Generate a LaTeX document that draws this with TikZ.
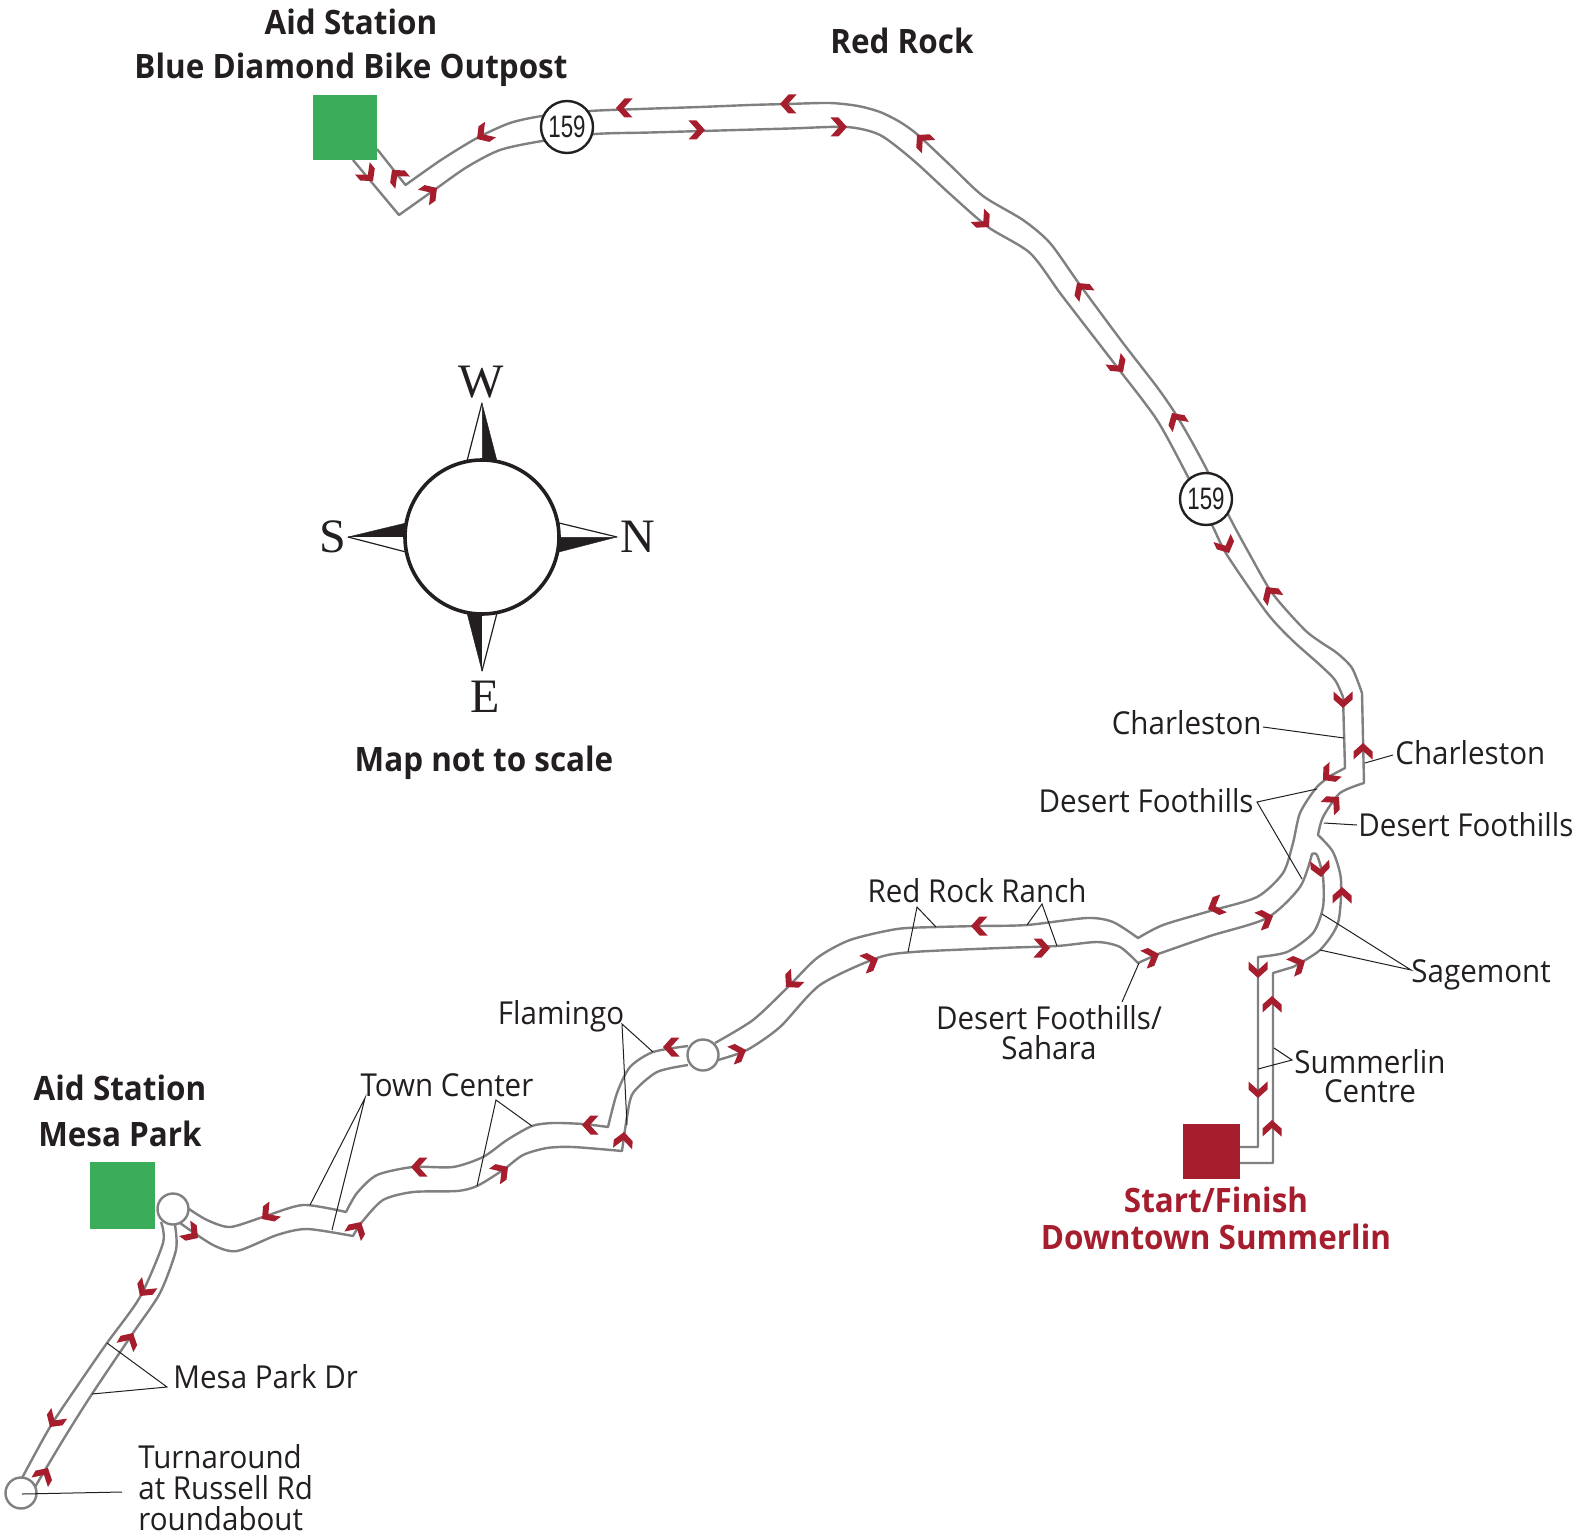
\documentclass[tikz,border=0pt]{standalone}
\usepackage{fontspec}
\setmainfont[FakeStretch=0.935]{Open Sans}
\newfontfamily\serifletters{Liberation Serif}
\newfontfamily\shieldfont[FakeStretch=0.72]{Liberation Sans}
\definecolor{roadgray}{HTML}{808080}
\definecolor{ink}{HTML}{231F20}
\definecolor{aidgreen}{HTML}{3BAD5A}
\definecolor{startred}{HTML}{A61E2D}
\tikzset{
  road/.style={draw=roadgray,line width=1.2pt,line join=round,fill=none},
  leader/.style={draw=ink,line width=0.5pt,line join=miter},
  chevron/.style={fill=startred,draw=none},
  lbl/.style={font=\fontsize{15.8}{18}\selectfont,text=ink,inner sep=0pt,anchor=base},
  lblw/.style={lbl,anchor=base west},
  lble/.style={lbl,anchor=base east},
  boldlbl/.style={font=\fontsize{16.8}{19}\bfseries\selectfont,text=ink,inner sep=0pt,anchor=base},
  redlbl/.style={boldlbl,text=startred},
  roundabout/.style={circle,draw=roadgray,fill=white,line width=1.2pt,minimum size=15.5pt,inner sep=0pt},
  shield/.style={circle,draw=ink,fill=white,line width=1.2pt,minimum size=26pt,inner sep=0pt,font=\shieldfont\fontsize{15.5}{18}\selectfont,text=ink},
  compassletter/.style={font=\serifletters\fontsize{24}{28}\selectfont,text=ink,inner sep=0pt,anchor=base},
  spike/.style={fill=ink,draw=ink,line width=0.2pt},
  spikeopen/.style={fill=white,draw=ink,line width=0.6pt},
  sm/.style={smooth,tension=0.45}
}
\newcommand{\chev}[3]{\fill[chevron,shift={(#1,#2)},rotate=#3] (0,0)--(-8.5,9.5)--(-16.5,9.5)--(-8,0)--(-16.5,-9.5)--(-8.5,-9.5)--cycle;}
\begin{document}
\begin{tikzpicture}[x=0.5pt,y=-0.5pt]
\useasboundingbox (0,0) rectangle (1585,1536);
% roads
\draw[road] (377,149) -- (405.5,185) -- plot[sm] coordinates {(405.5,185) (441,160) (477,138) (510,123) (542,116) (590,111) (640,109) (700,107) (750,105) (787,104) (830,103) (858,106) (880,112) (900,122) (918,135) (950,165) (983,196) (1023,220) (1050,243) (1080,285) (1123,343) (1157,387) (1175,413) (1192,442) (1208,472) (1230,518) (1250,555) (1270,590) (1288,612) (1307,632) (1322,643) (1337,653) (1352,668) (1362,693)} -- (1364,783) -- plot[sm] coordinates {(1364,783) (1340,793) (1323,817) (1318,835)} -- plot[sm] coordinates {(1318,835) (1333,852) (1341,880) (1338,923) (1320,950) (1293,967)} -- (1273,973) -- (1273,1163) -- (1240,1163);
\draw[road] (353,160) -- (399,215) -- plot[sm] coordinates {(399,215) (437,188) (467,167) (500,150) (542,141) (595,134) (650,132.5) (720,130.5) (790,128.5) (847,127) (880,135) (913,160) (950,194) (988,227) (1030,253) (1060,293) (1090,332) (1117,367) (1157,420) (1188,477) (1213,527) (1227,555) (1267,613) (1292,640) (1320,665) (1335,680) (1343,697)} -- (1345,768) -- (1330,776) -- plot[sm] coordinates {(1330,776) (1316,788) (1300,813) (1293,843) (1283,873) (1257,897) (1210,911) (1163,925) (1138,938)} -- plot[sm] coordinates {(1138,938) (1113,922) (1087,918) (1027,925) (980,926) (937,927) (897,929) (850,940) (817,958) (787,988) (753,1020) (715,1043)};
\draw[road] (1240,1147) -- (1258,1147) -- (1258,957) -- plot[sm] coordinates {(1258,957) (1287,952) (1313,933) (1323,907) (1323,877) (1317,855) (1312,854)} -- plot[sm] coordinates {(1312,854) (1300,887) (1267,918) (1210,936) (1158,954)} -- (1138,963) -- plot[sm] coordinates {(1138,963) (1120,947) (1097,942) (1057,946) (1000,948) (913,952) (877,958) (820,985) (780,1027) (747,1050) (718,1060)};
\draw[road] plot[sm] coordinates {(688,1046) (653,1052) (630,1067) (617,1093) (608,1127)} -- plot[sm] coordinates {(608,1127) (583,1124) (553,1123) (532,1126) (507,1140) (483,1157) (453,1167) (413,1167) (377,1175) (357,1193) (346,1212)} -- plot[sm] coordinates {(346,1212) (303,1205) (263,1217) (230,1227) (207,1220) (189,1209)};
\draw[road] plot[sm] coordinates {(688,1065) (657,1072) (633,1093) (627,1117) (622,1151)} -- plot[sm] coordinates {(622,1151) (573,1147) (547,1148) (523,1155) (503,1170) (477,1186) (457,1191) (413,1192) (383,1200) (362,1222) (353,1236)} -- plot[sm] coordinates {(353,1236) (307,1229) (277,1235) (237,1251) (213,1245) (180,1223)};
\draw[road] plot[sm] coordinates {(161,1222) (163,1243) (140,1297) (107,1343) (78,1385) (50,1427) (22,1478)};
\draw[road] plot[sm] coordinates {(175,1225) (176,1250) (160,1293) (133,1333) (92,1394) (63,1440) (35,1487)};
% circles and boxes
\node[shield] (shieldA) at (567,127) {\raisebox{-0.5pt}{159}};
\node[shield] (shieldB) at (1206,499) {\raisebox{-0.5pt}{159}};
\node[roundabout] (rbFlamingo) at (703,1055) {};
\node[roundabout] (rbMesa) at (173,1209) {};
\node[roundabout] (rbRussell) at (21,1493) {};
\fill[aidgreen] (313,95) rectangle (377,160);
\fill[aidgreen] (90,1162) rectangle (155,1229);
\fill[startred] (1183,1124) rectangle (1240,1179);
% leaders
\draw[leader] (1263,727) -- (1344,738);
\draw[leader] (1393,755) -- (1365,763);
\draw[leader] (1317,789) -- (1257,802) -- (1302,879);
\draw[leader] (1357,825) -- (1324,823);
\draw[leader] (1322,914) -- (1411,970) -- (1320,950);
\draw[leader] (1274,1048) -- (1292,1060) -- (1258,1069);
\draw[leader] (1122,1002) -- (1139,963);
\draw[leader] (936,927) -- (917,907) -- (908,952);
\draw[leader] (1027,925) -- (1042,904) -- (1057,946);
\draw[leader] (653,1052) -- (622,1024) -- (627,1125);
\draw[leader] (532,1126) -- (496,1100) -- (477,1186);
\draw[leader] (310,1205) -- (365,1098) -- (332,1230);
\draw[leader] (107,1343) -- (167,1387) -- (92,1394);
\draw[leader] (122,1492) -- (22,1494);
% chevrons
\chev{373}{181}{-50}\chev{392}{170}{130}\chev{477}{139}{215}\chev{437}{188}{35}
\chev{616}{108}{180}\chev{780}{104}{180}\chev{705}{130}{0}\chev{847}{127}{0}
\chev{917}{135}{135}\chev{989}{227}{-45}\chev{1077}{283}{127}\chev{1123}{372}{-53}
\chev{1172}{413}{122}\chev{1229}{553}{-65}\chev{1266}{587}{125}\chev{1343}{708}{-90}
\chev{1363}{743}{90}\chev{1323}{780}{220}\chev{1339}{797}{45}\chev{1321}{877}{-85}
\chev{1342}{887}{90}\chev{1208}{909}{200}\chev{1273}{916}{20}\chev{1159}{954}{20}
\chev{1305}{961}{25}\chev{1258}{978}{-90}\chev{1272}{996}{90}\chev{1258}{1098}{-90}
\chev{1272}{1120}{90}\chev{971}{926}{180}\chev{1050}{948}{0}\chev{878}{959}{20}
\chev{786}{987}{225}\chev{746}{1050}{20}\chev{663}{1047}{180}\chev{582}{1125}{180}
\chev{624}{1132}{85}\chev{411}{1167}{180}\chev{508}{1167}{35}\chev{361}{1222}{60}
\chev{262}{1219}{217}\chev{198}{1238}{-36}\chev{140}{1296}{234}\chev{133}{1333}{61}
\chev{50}{1427}{236}\chev{48}{1468}{60}
% compass
\fill[spike] (482,403) -- (497,461) -- (482,461) -- cycle;
\draw[spikeopen] (482,403) -- (467,461) -- (482,461);
\fill[spike] (617,537) -- (559,552) -- (559,537) -- cycle;
\draw[spikeopen] (617,537) -- (559,523) -- (559,537);
\fill[spike] (348,537) -- (406,523) -- (406,537) -- cycle;
\draw[spikeopen] (348,537) -- (406,552) -- (406,537);
\fill[spike] (482,671) -- (467,613) -- (482,613) -- cycle;
\draw[spikeopen] (482,671) -- (497,613) -- (482,613);
\node[circle,draw=ink,fill=white,line width=1.8pt,minimum size=77pt,inner sep=0pt] (dial) at (482,537) {};
\node[compassletter] (letterW) at (481,397) {W};
\node[compassletter] (letterN) at (638,552) {N};
\node[compassletter] (letterS) at (333,552) {S};
\node[compassletter] (letterE) at (485,712) {E};
% labels
\node[boldlbl] (t1) at (351,35) {Aid Station};
\node[boldlbl] (t2) at (351,79) {Blue Diamond Bike Outpost};
\node[boldlbl] (t3) at (902,54) {Red Rock};
\node[boldlbl] (t4) at (484,771) {Map not to scale};
\node[boldlbl] (t5) at (120,1100) {Aid Station};
\node[boldlbl] (t6) at (120,1146) {Mesa Park};
\node[redlbl] (t7) at (1216,1212) {Start/Finish};
\node[redlbl] (t8) at (1216,1249) {Downtown Summerlin};
\node[lble] (l1) at (1262,734) {Charleston};
\node[lblw] (l2) at (1395,764) {Charleston};
\node[lble] (l3) at (1254,812) {Desert Foothills};
\node[lblw] (l4) at (1358,836) {Desert Foothills};
\node[lbl] (l5) at (977,902) {Red Rock Ranch};
\node[lbl] (l6) at (1049,1029) {Desert Foothills/};
\node[lbl] (l7) at (1049,1059) {Sahara};
\node[lblw] (l8) at (1411,982) {Sagemont};
\node[lbl,anchor=center,align=center,font=\fontsize{15.8}{14.5}\selectfont] (l9) at (1370,1076) {Summerlin\\Centre};
\node[lbl] (l11) at (561,1024) {Flamingo};
\node[lbl] (l12) at (447,1096) {Town Center};
\node[lblw] (l13) at (173,1388) {Mesa Park Dr};
\node[lblw] (l14) at (138,1468) {Turnaround};
\node[lblw] (l15) at (138,1499) {at Russell Rd};
\node[lblw] (l16) at (138,1530) {roundabout};
\end{tikzpicture}
\end{document}
